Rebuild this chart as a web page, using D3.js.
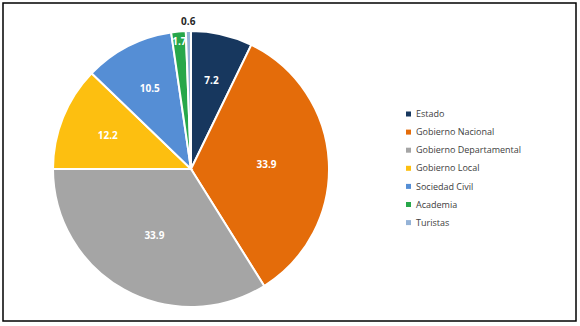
<!DOCTYPE html>
<html>
<head>
<meta charset="utf-8">
<script src="https://cdn.jsdelivr.net/npm/d3@7"></script>
<style>
  body { margin: 0; background: #fff; }
  svg { display: block; }
</style>
</head>
<body>
<svg id="chart"></svg>
<script>
// Categories and shares (%), clockwise from 12 o'clock.
const categories = ["Estado", "Gobierno Nacional", "Gobierno Departamental", "Gobierno Local",
                    "Sociedad Civil", "Academia", "Turistas"];
const values = [7.2, 33.9, 33.9, 12.2, 10.5, 1.7, 0.6];
const colors = ["#17375e", "#e46c0a", "#a5a5a5", "#fdbf10", "#558ed5", "#27a74a", "#95b3d7"];

const width = 580, height = 326;
const svg = d3.select("#chart").attr("width", width).attr("height", height);

// Outer frame.
svg.append("rect")
    .attr("x", 3).attr("y", 3)
    .attr("width", 573).attr("height", 318)
    .attr("fill", "none")
    .attr("stroke", "#000")
    .attr("stroke-width", 1.5);

const cx = 191, cy = 169, radius = 138;

const pie = d3.pie().sort(null).value(d => d);
const arcs = pie(values);
const arc = d3.arc().innerRadius(0).outerRadius(radius);

const g = svg.append("g").attr("transform", `translate(${cx},${cy})`);

g.selectAll("path.slice")
    .data(arcs)
    .enter()
    .append("path")
    .attr("class", "slice")
    .attr("d", arc)
    .attr("fill", (d, i) => colors[i])
    .attr("stroke", "#fff")
    .attr("stroke-width", 2);

// Label distance: geometric centroid of the sector, pushed out for thin slices.
function labelRadius(d) {
    const a = d.endAngle - d.startAngle;
    if (d.data < 1) return radius + 10;
    if (d.data < 3) return radius * 0.93;
    return 4 * radius * Math.sin(a / 2) / (3 * a);
}

g.selectAll("text.val")
    .data(arcs)
    .enter()
    .append("text")
    .attr("class", "val")
    .attr("transform", d => {
        const r = labelRadius(d);
        const m = (d.startAngle + d.endAngle) / 2;
        return `translate(${r * Math.sin(m)},${-r * Math.cos(m)})`;
    })
    .attr("text-anchor", "middle")
    .attr("dy", "0.35em")
    .attr("font-family", "'Open Sans', sans-serif")
    .attr("font-size", 10)
    .attr("font-weight", "bold")
    .attr("fill", d => d.data < 1 ? "#262626" : "#fff")
    .text(d => d3.format(".1f")(d.data));

// Legend.
const legend = svg.append("g").attr("transform", "translate(406,114)");
const rows = legend.selectAll("g")
    .data(categories)
    .enter()
    .append("g")
    .attr("transform", (d, i) => `translate(0,${i * 18.1})`);

rows.append("rect")
    .attr("x", 0).attr("y", -2.5)
    .attr("width", 5).attr("height", 5)
    .attr("fill", (d, i) => colors[i]);

rows.append("text")
    .attr("x", 10)
    .attr("dy", "0.35em")
    .attr("font-family", "'Open Sans', sans-serif")
    .attr("font-size", 9)
    .attr("fill", "#404040")
    .text(d => d);
</script>
</body>
</html>
